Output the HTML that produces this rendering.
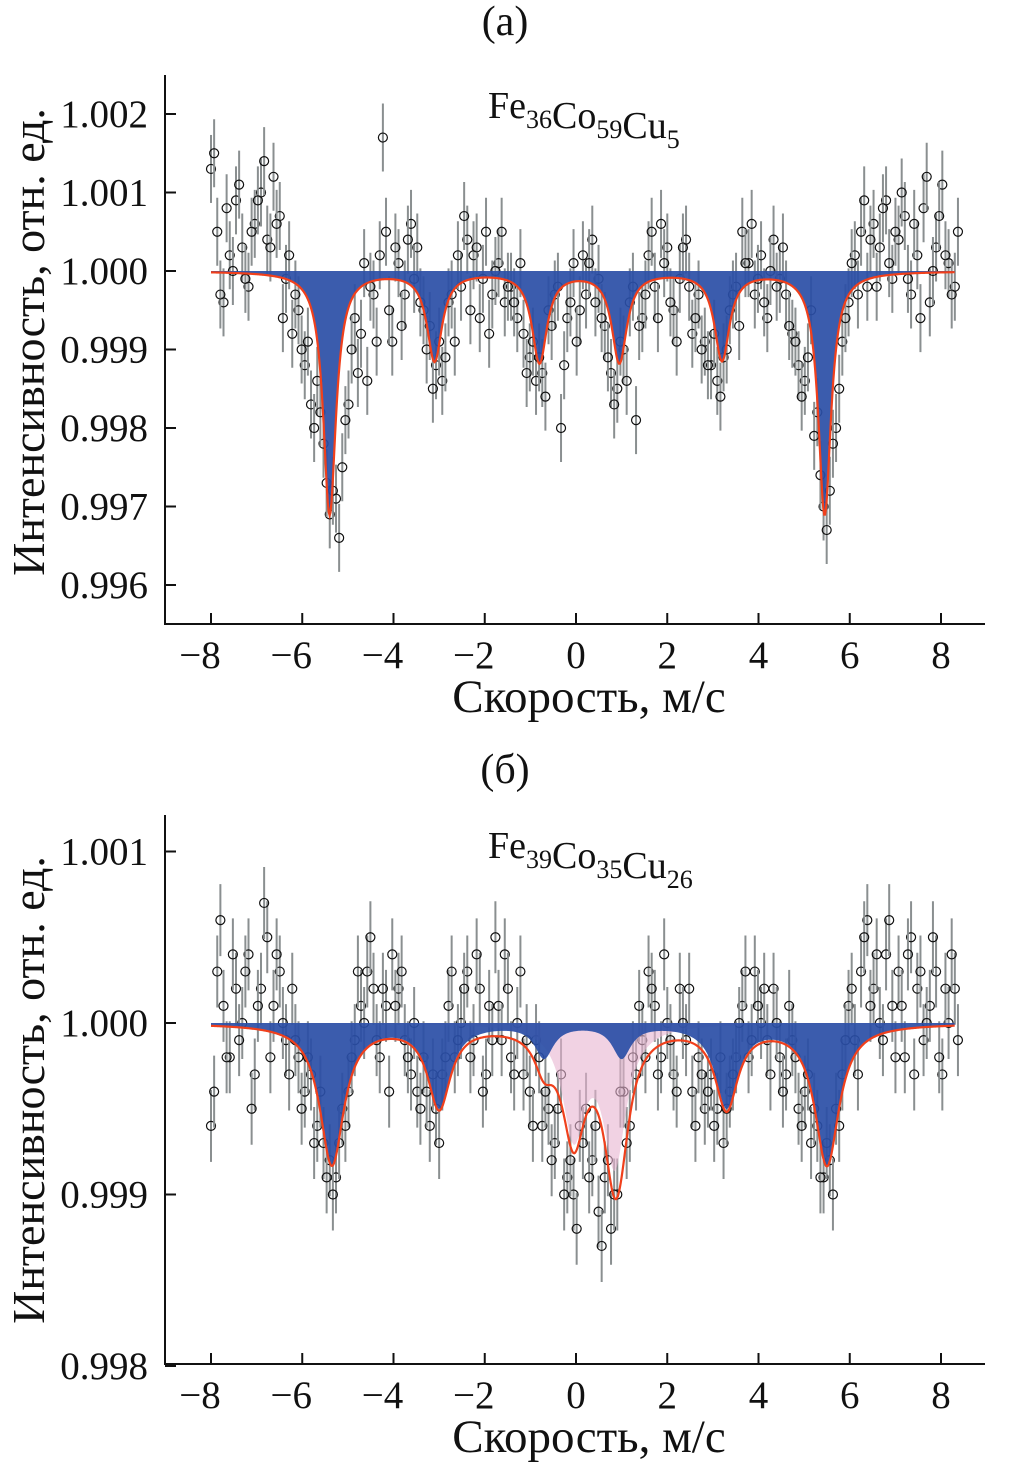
<!DOCTYPE html>
<html><head><meta charset="utf-8"><style>
body{margin:0;background:#fff}
svg{display:block}
text{font-family:"Liberation Serif",serif;fill:#111}
</style></head><body>
<svg id="chart" width="1010" height="1476" viewBox="0 0 1010 1476"></svg>
<script>
// data: intensity offsets in units of 1e-4
const xStart=-8, xStep=0.137;
const seriesA=[13,5,-4,2,9,3,-2,6,10,4,12,7,-1,-8,-5,-12,-17,-14,-22,-31,-29,-25,-17,-6,-8,-14,-3,2,5,-9,1,-3,6,3,-5,-7,-12,-14,-4,-9,-2,4,2,-6,5,-3,1,-4,-2,-6,-8,-11,-14,-13,-5,-3,-20,-6,1,-5,-3,4,-1,-7,-13,-15,-10,-4,-19,-6,2,-2,6,3,-5,-1,4,-8,-3,-9,-12,-14,-11,-5,-2,5,1,-3,2,-6,4,-1,-3,-8,-12,-14,-5,-18,-30,-28,-20,-9,-4,2,5,-2,6,3,9,-1,4,7,-3,2,8,-4,3,11,1,-2];
const seriesA2=[15,-3,8,0,11,-1,5,9,14,3,6,-6,2,-3,-10,-9,-20,-18,-27,-28,-34,-19,-10,-13,1,-2,-9,17,-5,3,-7,4,-1,-4,-10,-15,-9,-11,-3,2,7,-5,3,-1,-8,0,5,-2,-4,1,-13,-9,-11,-16,-7,-2,-12,-4,-9,2,1,-4,-6,-11,-17,-9,-14,-2,-7,-3,5,-6,1,-4,-9,3,-2,-6,-10,-12,-8,-16,-10,-3,-7,1,6,-1,-4,0,-2,3,-7,-9,-16,-11,-21,-26,-33,-22,-15,-6,1,-3,9,4,-2,8,1,5,10,-1,6,-6,12,0,7,2,-3,5];
const seriesB=[-6,3,1,-2,2,0,4,-3,2,5,1,3,-1,2,-2,-4,-3,-6,-7,-8,-9,-5,-4,-1,1,3,2,-2,1,4,2,-1,-3,-4,-2,-6,-5,-3,1,-2,0,3,-1,2,-3,-1,1,4,-2,0,-3,-4,-1,-6,-5,-7,-3,-9,-10,-6,-5,-8,-11,-9,-12,-10,-4,-6,-3,-1,3,1,-2,0,-3,2,-1,-4,-2,-5,-3,-5,-7,-4,-2,1,-2,3,0,-1,2,-2,-3,-1,-5,-4,-7,-6,-9,-8,-5,-3,1,-1,3,6,2,0,4,1,3,-2,5,2,-1,1,3,-3,0,2];
const seriesB2=[-4,6,-2,4,-1,3,-5,1,7,-2,4,0,-3,-1,-5,-2,-7,-4,-9,-10,-7,-6,-2,3,0,5,-1,2,-4,1,3,-2,0,-5,-4,-3,-7,-2,3,-1,2,-2,4,-4,1,5,-1,2,-3,3,-1,-6,-2,-4,-8,-5,-10,-8,-12,-7,-9,-6,-13,-8,-10,-4,-7,-2,1,-2,2,-3,4,-1,-4,0,2,-6,-3,-4,-6,-2,-5,-3,0,3,-1,1,2,-3,0,-4,1,-2,-6,-3,-5,-9,-7,-10,-6,-1,2,-3,5,1,4,-1,6,-2,1,4,-3,3,0,5,-2,2,4,-1];
// Lorentzian components: positions (mm/s), depths (1e-4), half widths
const sextetPosA=[-5.4,-3.1,-0.8,0.95,3.2,5.45];
const sextetDepA=[31,11.3,11.5,11.5,11.2,31];
const sextetWA=[0.17,0.2,0.2,0.2,0.2,0.17];
const sextetPosB=[-5.35,-3.0,-0.7,1.0,3.3,5.5];
const sextetDepB=[8.2,4.8,1.9,1.9,4.8,8.2];
const sextetWB=[0.32,0.3,0.25,0.25,0.3,0.32];
const doubletPos=[-0.05,0.85];
const doubletDep=[6.3,8.0];
const doubletW=[0.3,0.3];
const xTicks=[-8,-6,-4,-2,0,2,4,6,8];
const yTicksA=[1.002,1.001,1.000,0.999,0.998,0.997,0.996];
const yTicksB=[1.001,1.000,0.999,0.998];

const NS="http://www.w3.org/2000/svg";
const svg=document.getElementById('chart');
function el(t,a,p){const e=document.createElementNS(NS,t);for(const k in a)e.setAttribute(k,a[k]);(p||svg).appendChild(e);return e;}
function lor(x,P,D,W){let s=0;for(let i=0;i<P.length;i++){const d=(x-P[i])/W[i];s+=D[i]/(1+d*d);}return s;}

function panel(cfg){
  const g=el('g',{});
  
  
  const X=v=>576+v*45.625;
  const Y=v=>cfg.y0+(1-v)*cfg.scale;
  const Yo=o=>Y(1+o/10000);
  const dg=el('g',{},g);
  
  
  cfg.sets.forEach((arr,k)=>{
    arr.forEach((v,i)=>{
      const x=X(xStart+i*xStep+k*xStep/2), y=Yo(v);
      const l=el('line',{x1:x,x2:x,y1:y-cfg.err,y2:y+cfg.err,stroke:'#8a8f90','stroke-width':2},dg);
      
      
      const c=el('circle',{cx:x,cy:y,r:4.5,fill:'none',stroke:'#111','stroke-width':1.2},dg);
      
      
    });
  });
  const xs=[];for(let x=-8;x<=8.3001;x+=0.02)xs.push(x);
  if(cfg.doublet){
    let d='M'+X(-8)+','+Yo(0);
    xs.forEach(x=>d+='L'+X(x)+','+Yo(-lor(x,doubletPos,doubletDep,doubletW)));
    d+='L'+X(8.3)+','+Yo(0)+'Z';
    const p=el('path',{d:d,fill:'#e8b4d0','fill-opacity':0.6},g);
    
    
  }
  let d='M'+X(-8)+','+Yo(0);
  xs.forEach(x=>d+='L'+X(x)+','+Yo(-lor(x,cfg.P,cfg.D,cfg.W)));
  d+='L'+X(8.3)+','+Yo(0)+'Z';
  const b=el('path',{d:d,fill:'#2a4ea6','fill-opacity':0.92},g);
  
  
  let r='';
  xs.forEach((x,i)=>{let s=lor(x,cfg.P,cfg.D,cfg.W);if(cfg.doublet)s+=lor(x,doubletPos,doubletDep,doubletW);r+=(i?'L':'M')+X(x)+','+Yo(-s);});
  const rl=el('path',{d:r,fill:'none',stroke:'#f0401c','stroke-width':2.2},g);
  
  
  const ax=el('path',{d:`M165,${cfg.top}V${cfg.y1}H985`,fill:'none',stroke:'#111','stroke-width':2},g);
  
  
  xTicks.forEach(t=>{
    el('line',{x1:X(t),x2:X(t),y1:cfg.y1,y2:cfg.y1-11,stroke:'#111','stroke-width':2},g);
    const tx=el('text',{x:X(t)-(t<0?11:0),y:cfg.y1+44,'text-anchor':'middle','font-size':39},g);
    tx.textContent=(t<0?'\u2212':'')+Math.abs(t);
    
    
  });
  cfg.yt.forEach(t=>{
    const y=Y(t);
    el('line',{x1:165,x2:176,y1:y,y2:y,stroke:'#111','stroke-width':2},g);
    const tx=el('text',{x:148,y:y+13,'text-anchor':'end','font-size':39},g);
    tx.textContent=t.toFixed(3);
    
    
  });
  const xt=el('text',{x:589,y:cfg.y1+88,'text-anchor':'middle','font-size':47},g);
  xt.textContent='Скорость, м/с';
  
  
  const yt=el('text',{x:0,y:0,'text-anchor':'middle','font-size':46,transform:`translate(44,${cfg.ymid}) rotate(-90)`},g);
  yt.textContent='Интенсивность, отн. ед.';
  
  
  const pt=el('text',{x:505,y:cfg.titleY,'text-anchor':'middle','font-size':42},g);
  pt.textContent=cfg.title;
  
  
  const cl=el('text',{x:488,y:cfg.top+43,'font-size':38},g);
  
  
  cfg.comp.forEach(([a,s])=>{const t1=el('tspan',{},cl);t1.textContent=a;const t2=el('tspan',{dy:10,'font-size':26},cl);t2.textContent=s;const t3=el('tspan',{dy:-10},cl);t3.textContent='';});
}
panel({name:'panel-a',sets:[seriesA,seriesA2],P:sextetPosA,D:sextetDepA,W:sextetWA,doublet:false,y0:271,scale:78500,y1:624,top:75,err:34,yt:yTicksA,ymid:342,titleY:35,title:'(a)',comp:[['Fe','36'],['Co','59'],['Cu','5']]});
panel({name:'panel-b',sets:[seriesB,seriesB2],P:sextetPosB,D:sextetDepB,W:sextetWB,doublet:true,y0:1023,scale:171500,y1:1364,top:815,err:36,yt:yTicksB,ymid:1090,titleY:783,title:'(б)',comp:[['Fe','39'],['Co','35'],['Cu','26']]});
</script>
</body></html>
